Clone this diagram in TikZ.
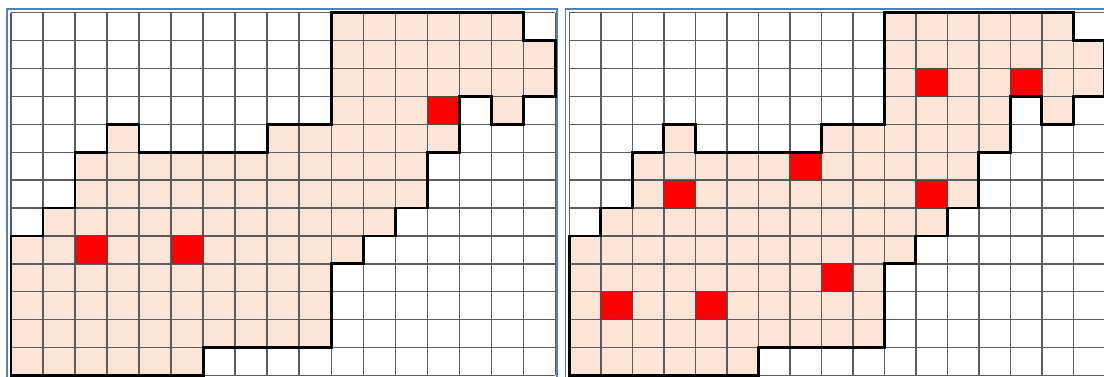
\documentclass[tikz,border=0pt]{standalone}
\definecolor{cellfill}{HTML}{FCE4D6}
\definecolor{gridcol}{HTML}{5C5C5C}
\definecolor{framecol}{HTML}{4F81BD}
\definecolor{hotcell}{HTML}{FF0000}
\tikzset{
  gridline/.style={draw=gridcol, line width=1.4pt},
  outline/.style={draw=black, line width=2.8pt, line join=miter},
  framebox/.style={draw=framecol, line width=1.6pt},
  hot/.style={fill=hotcell, draw=black!70, line width=1pt},
  region/.style={fill=cellfill}
}
\newcommand\shapepath{(10,0) -- (16,0) -- (16,1) -- (17,1) -- (17,3) -- (16,3) -- (16,4) -- (15,4) -- (15,3) -- (14,3) -- (14,5) -- (13,5) -- (13,7) -- (12,7) -- (12,8) -- (11,8) -- (11,9) -- (10,9) -- (10,12) -- (6,12) -- (6,13) -- (0,13) -- (0,8) -- (1,8) -- (1,7) -- (2,7) -- (2,5) -- (3,5) -- (3,4) -- (4,4) -- (4,5) -- (8,5) -- (8,4) -- (10,4) -- cycle}
\newcommand\gridpanel[3]{%
  \begin{scope}[xshift=#1pt, yshift=-12.7pt, x=#2pt, y=-27.9pt]
    \fill[region] \shapepath;
    \foreach \i in {0,...,17} { \draw[gridline] (\i,0) -- (\i,13); }
    \foreach \j in {0,...,13} { \draw[gridline] (0,\j) -- (17,\j); }
    \foreach \c/\r in {#3} { \path[hot] (\c,\r) rectangle ++(1,1); }
    \draw[outline] \shapepath;
  \end{scope}}
\begin{document}
\begin{tikzpicture}[x=1pt,y=-1pt]
\useasboundingbox (0,0) rectangle (1104,376);
\fill[white] (0,0) rectangle (1104,376);
\draw[framebox] (7,9) rectangle (557,384);
\draw[framebox] (565.5,9) rectangle (1112,384);
\gridpanel{11}{32.02}{13/3, 2/8, 5/8}
\gridpanel{569.3}{31.5}{11/2, 14/2, 7/5, 3/6, 11/6, 8/9, 1/10, 4/10}
\end{tikzpicture}
\end{document}
